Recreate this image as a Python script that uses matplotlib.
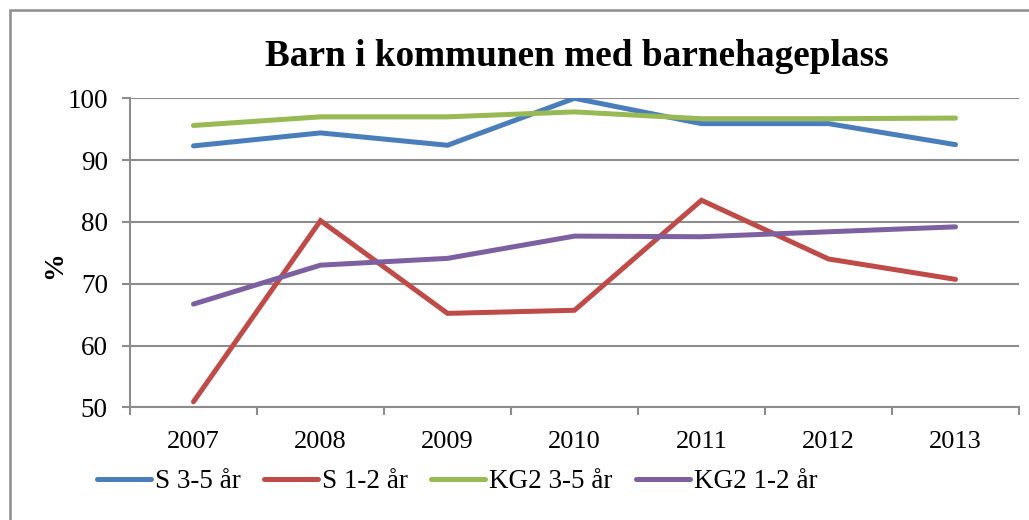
import matplotlib

matplotlib.use("Agg")
import matplotlib.pyplot as plt  # noqa: E402
from matplotlib.patches import Rectangle  # noqa: E402

years = ["2007", "2008", "2009", "2010", "2011", "2012", "2013"]
s_3_5 = [92.3, 94.4, 92.4, 100.0, 95.9, 95.9, 92.5]
s_1_2 = [50.9, 80.2, 65.2, 65.7, 83.5, 74.0, 70.7]
kg2_3_5 = [95.6, 97.0, 97.0, 97.8, 96.7, 96.7, 96.8]
kg2_1_2 = [66.7, 73.0, 74.1, 77.7, 77.6, 78.4, 79.2]
y_ticks = [50, 60, 70, 80, 90, 100]

series = [
    ("S 3-5 år", s_3_5, "#4A7EBB"),
    ("S 1-2 år", s_1_2, "#BE4B48"),
    ("KG2 3-5 år", kg2_3_5, "#98B954"),
    ("KG2 1-2 år", kg2_1_2, "#7D60A0"),
]

plt.rcParams["font.family"] = ["Liberation Serif", "DejaVu Serif"]
grid_col = "#8c8c8c"
W, H = 1029, 520


def main():
    fig = plt.figure(figsize=(W / 100, H / 100), dpi=100)
    # chart frame, runs off the right and bottom edges
    fig.patches.append(Rectangle((10 / W, -0.1), 1.2, 1 - 10 / H + 0.1,
                                 transform=fig.transFigure, fill=False,
                                 ec="#8c8c8c", lw=1.8))

    ax = fig.add_axes([130 / W, 1 - 407.3 / H, 889 / W, 309 / H])
    x = list(range(len(years)))
    for name, vals, col in series:
        ax.plot(x, vals, color=col, lw=3.6, label=name,
                solid_capstyle="round", solid_joinstyle="miter")

    ax.set_xlim(-0.5, len(years) - 0.5)
    ax.set_ylim(50, 100)
    ax.set_yticks(y_ticks)
    ax.set_xticks(x)
    ax.set_xticklabels(years)
    ax.set_xticks([i - 0.5 for i in range(len(years) + 1)], minor=True)
    ax.tick_params(axis="x", which="major", length=0, pad=17, labelsize=19)
    ax.tick_params(axis="x", which="minor", length=6, color=grid_col, width=1.5)
    ax.tick_params(axis="y", length=6, color=grid_col, width=1.5, pad=10, labelsize=19.5)
    ax.yaxis.grid(True, color=grid_col, lw=1.5)
    ax.set_axisbelow(True)
    for side in ("top", "right"):
        ax.spines[side].set_visible(False)
    for side in ("left", "bottom"):
        ax.spines[side].set_color(grid_col)
        ax.spines[side].set_linewidth(1.5)

    ax.set_ylabel("%", fontsize=20, weight="bold")
    ax.yaxis.set_label_coords(-0.071, 0.46)
    fig.text(577 / W, 1 - 56 / H, "Barn i kommunen med barnehageplass",
             ha="center", va="center", fontsize=26.8, weight="bold")

    fig.legend(loc="center left", bbox_to_anchor=(97 / W, 1 - 482 / H),
               ncol=4, frameon=False, fontsize=19.5, handlelength=2.0,
               handletextpad=0.15, columnspacing=0.85, borderaxespad=0,
               borderpad=0)

    fig.savefig("out.png", dpi=100)


if __name__ == "__main__":
    main()
